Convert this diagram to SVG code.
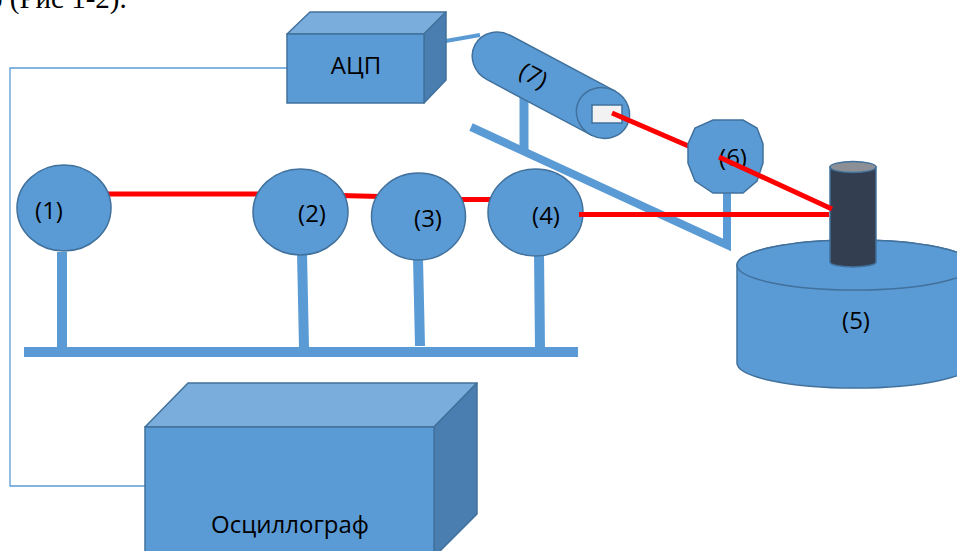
<svg xmlns="http://www.w3.org/2000/svg" width="957" height="551" viewBox="0 0 957 551">
  <style>
    .body { fill: #5b9bd5; stroke: #41719c; stroke-width: 1.5; }
    .top { fill: #7aaddc; stroke: #41719c; stroke-width: 1.5; stroke-linejoin: round; }
    .side { fill: #4a7db0; stroke: #41719c; stroke-width: 1.5; stroke-linejoin: round; }
    .bar { stroke: #5b9bd5; fill: none; }
    .beam { stroke: #ff0000; stroke-width: 5; fill: none; }
    .wire { stroke: #5b9bd5; stroke-width: 1.3; fill: none; }
    .lbl { font-family: "Open Sans", "Noto Sans", sans-serif; font-size: 24px; fill: #000; text-anchor: middle; }
    .caption { font-family: "Liberation Serif", serif; font-size: 29px; fill: #000; }
  </style>

  <!-- caption fragment cut at the top edge -->
  <text class="caption" x="-12" y="8">о (Рис 1-2).</text>

  <!-- signal connectors -->
  <g id="connectors">
    <polyline class="wire" points="287,68 10,68 10,486 145,486"/>
    <line class="bar" x1="440" y1="42" x2="480" y2="35" stroke-width="4"/>
  </g>

  <!-- optical bench: base rail and posts -->
  <g id="bench">
    <line class="bar" x1="24" y1="352" x2="578" y2="352" stroke-width="10"/>
    <line class="bar" x1="62" y1="252" x2="62" y2="348" stroke-width="10"/>
    <line class="bar" x1="302" y1="252" x2="304" y2="348" stroke-width="10"/>
    <line class="bar" x1="418" y1="258" x2="420" y2="346" stroke-width="10"/>
    <line class="bar" x1="539" y1="254" x2="540" y2="348" stroke-width="10"/>
  </g>

  <!-- inclined rail carrying the photodetector and the lens -->
  <g id="rail">
    <polyline class="bar" points="471,127 727,245 727,190" stroke-width="8" stroke-linejoin="miter"/>
    <line class="bar" x1="524" y1="95" x2="524" y2="152" stroke-width="9"/>
  </g>

  <!-- beam segments lying under the optics -->
  <g id="beams-under">
    <line class="beam" x1="100" y1="194" x2="260" y2="194"/>
    <line class="beam" x1="340" y1="195.5" x2="380" y2="196.5"/>
    <line class="beam" x1="460" y1="199.5" x2="495" y2="199.5"/>
  </g>

  <!-- (1) -->
  <g id="n1">
    <ellipse class="body" cx="64" cy="208" rx="47" ry="43"/>
    <text class="lbl" x="49" y="219">(1)</text>
  </g>
  <!-- (2) -->
  <g id="n2">
    <ellipse class="body" cx="300.5" cy="212" rx="47.5" ry="43"/>
    <text class="lbl" x="312" y="222">(2)</text>
  </g>
  <!-- (3) -->
  <g id="n3">
    <ellipse class="body" cx="418.5" cy="216.5" rx="47" ry="43.5"/>
    <text class="lbl" x="428" y="227">(3)</text>
  </g>
  <!-- (4) -->
  <g id="n4">
    <ellipse class="body" cx="535.5" cy="212.5" rx="47.5" ry="43.5"/>
    <text class="lbl" x="546" y="224">(4)</text>
  </g>

  <!-- (5) rotating table with the dark target rod -->
  <g id="n5">
    <path class="body" d="M737,265 A118,25 0 0 1 973,265 V363 A118,25 0 0 1 737,363 Z"/>
    <ellipse class="body" cx="855" cy="265" rx="118" ry="25"/>
    <path d="M830,167 V262 A23,5 0 0 0 876,262 V167 Z" fill="#333f50" stroke="#41719c" stroke-width="1.5"/>
    <ellipse cx="853" cy="167" rx="23" ry="5.5" fill="#8c9096" stroke="#41719c" stroke-width="1.5"/>
    <text class="lbl" x="856" y="329">(5)</text>
  </g>

  <!-- (7) photodetector tube -->
  <g id="n7">
    <g transform="translate(603,113) rotate(28)">
      <path class="body" d="M0,-25 H-118 A27,25 0 0 0 -118,25 H0 Z"/>
      <ellipse class="body" cx="0" cy="0" rx="27" ry="25"/>
      <text class="lbl" x="-79" y="8" font-size="20">(7)</text>
    </g>
    <rect x="592" y="105" width="30" height="18" fill="#f2f2f2" stroke="#41719c" stroke-width="1.5"/>
  </g>

  <line class="beam" x1="612" y1="113" x2="700" y2="151"/>

  <!-- (6) lens -->
  <g id="n6">
    <polygon class="body" points="713,120 743,120 757,128 763,144 763,163 757,181 743,193 713,193 695,181 688,163 688,144 695,128"/>
    <text class="lbl" x="733" y="166">(6)</text>
  </g>

  <!-- beam segments drawn over the optics -->
  <g id="beams-over">
    <line class="beam" x1="719" y1="157" x2="832" y2="209"/>
    <line class="beam" x1="579" y1="214.5" x2="829" y2="214.5"/>
  </g>

  <!-- АЦП box -->
  <g id="adc">
    <polygon class="top" points="287,34 310,12 446,12 424,34"/>
    <polygon class="side" points="424,34 446,12 446,80 424,103"/>
    <rect class="body" x="287" y="34" width="137" height="69"/>
    <text class="lbl" x="356" y="74">АЦП</text>
  </g>

  <!-- Осциллограф box -->
  <g id="scope">
    <polygon class="top" points="145,427 188,383 477,383 434,427"/>
    <polygon class="side" points="434,427 477,383 477,514 434,557"/>
    <rect class="body" x="145" y="427" width="289" height="140"/>
    <text class="lbl" x="290" y="533" font-size="25">Осциллограф</text>
  </g>
</svg>
